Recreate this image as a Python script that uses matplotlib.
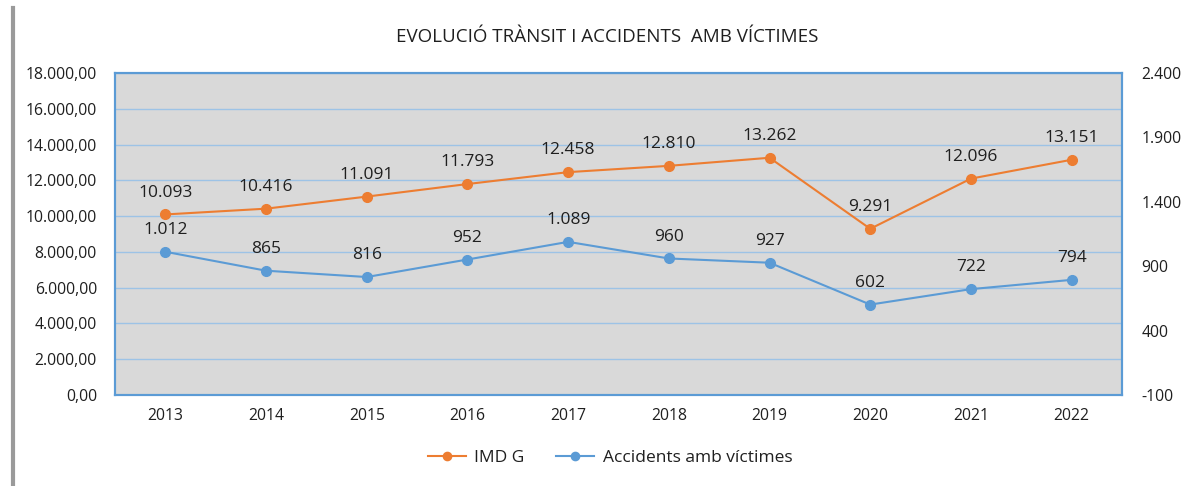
import matplotlib
matplotlib.use("Agg")
import matplotlib.pyplot as plt
from matplotlib.lines import Line2D
from matplotlib.ticker import FuncFormatter, FixedLocator

plt.rcParams['font.family'] = ['Open Sans', 'DejaVu Sans']

years = ["2013", "2014", "2015", "2016", "2017", "2018", "2019", "2020", "2021", "2022"]
imd = [10093, 10416, 11091, 11793, 12458, 12810, 13262, 9291, 12096, 13151]
accidents = [1012, 865, 816, 952, 1089, 960, 927, 602, 722, 794]
left_ticks = [0, 2000, 4000, 6000, 8000, 10000, 12000, 14000, 16000, 18000]
right_ticks = [-100, 400, 900, 1400, 1900, 2400]

orange = "#ED7D31"
blue = "#5B9BD5"
grid_c = "#9DC3E6"
txt = "#1f1f1f"

def thou(v):
    s = f"{int(round(abs(v))):,}".replace(",", ".")
    return ("-" if v < 0 else "") + s

fig = plt.figure(figsize=(11.98, 4.86), dpi=100)
ax = fig.add_axes([115/1198, 1-395/486, 1007/1198, 322/486])
ax2 = ax.twinx()

x = list(range(len(years)))
ax.set_facecolor("#D9D9D9")
ax.set_xlim(-0.5, len(years)-0.5)
ax.set_ylim(0, 18000)
ax2.set_ylim(-100, 2400)
ax.yaxis.set_major_locator(FixedLocator(left_ticks))
ax2.yaxis.set_major_locator(FixedLocator(right_ticks))
ax.yaxis.set_major_formatter(FuncFormatter(lambda v, p: thou(v) + ",00"))
ax2.yaxis.set_major_formatter(FuncFormatter(lambda v, p: thou(v)))
ax.set_xticks(x)
ax.set_xticklabels(years)
ax.grid(axis="y", color=grid_c, lw=1)
ax.set_axisbelow(True)
for a in (ax, ax2):
    for s in a.spines.values():
        s.set_color(blue)
        s.set_linewidth(1.5)
    a.tick_params(length=0, labelsize=11.3, colors=txt)
ax.tick_params(axis="y", pad=13)
ax2.tick_params(axis="y", pad=14)
ax.tick_params(axis="x", pad=9)

l1, = ax.plot(x, imd, color=orange, lw=1.5, marker="o", ms=7, label="IMD G", zorder=3)
l2, = ax2.plot(x, accidents, color=blue, lw=1.5, marker="o", ms=7, label="Accidents amb víctimes", zorder=3)
for xi, v in zip(x, imd):
    ax.annotate(thou(v), (xi, v), xytext=(0, 10), textcoords="offset points",
                ha="center", va="bottom", fontsize=12.5, color=txt)
for xi, v in zip(x, accidents):
    ax2.annotate(thou(v), (xi, v), xytext=(0, 10), textcoords="offset points",
                 ha="center", va="bottom", fontsize=12.5, color=txt)

fig.text(607/1198, 1-37/486, "EVOLUCIÓ TRÀNSIT I ACCIDENTS  AMB VÍCTIMES", ha="center", va="center",
         fontsize=13.5, color=txt)
fig.legend(handles=[l1, l2], loc="center", bbox_to_anchor=(610/1198, 1-458/486), ncol=2,
           frameon=False, fontsize=12.5, handlelength=2.2, handletextpad=0.5,
           columnspacing=1.8, labelcolor=txt, markerscale=0.85)
fig.add_artist(Line2D([13/1198, 13/1198], [0, 1-8/486], color="#9A9A9A", lw=3))

fig.savefig("out.png", dpi=100)
